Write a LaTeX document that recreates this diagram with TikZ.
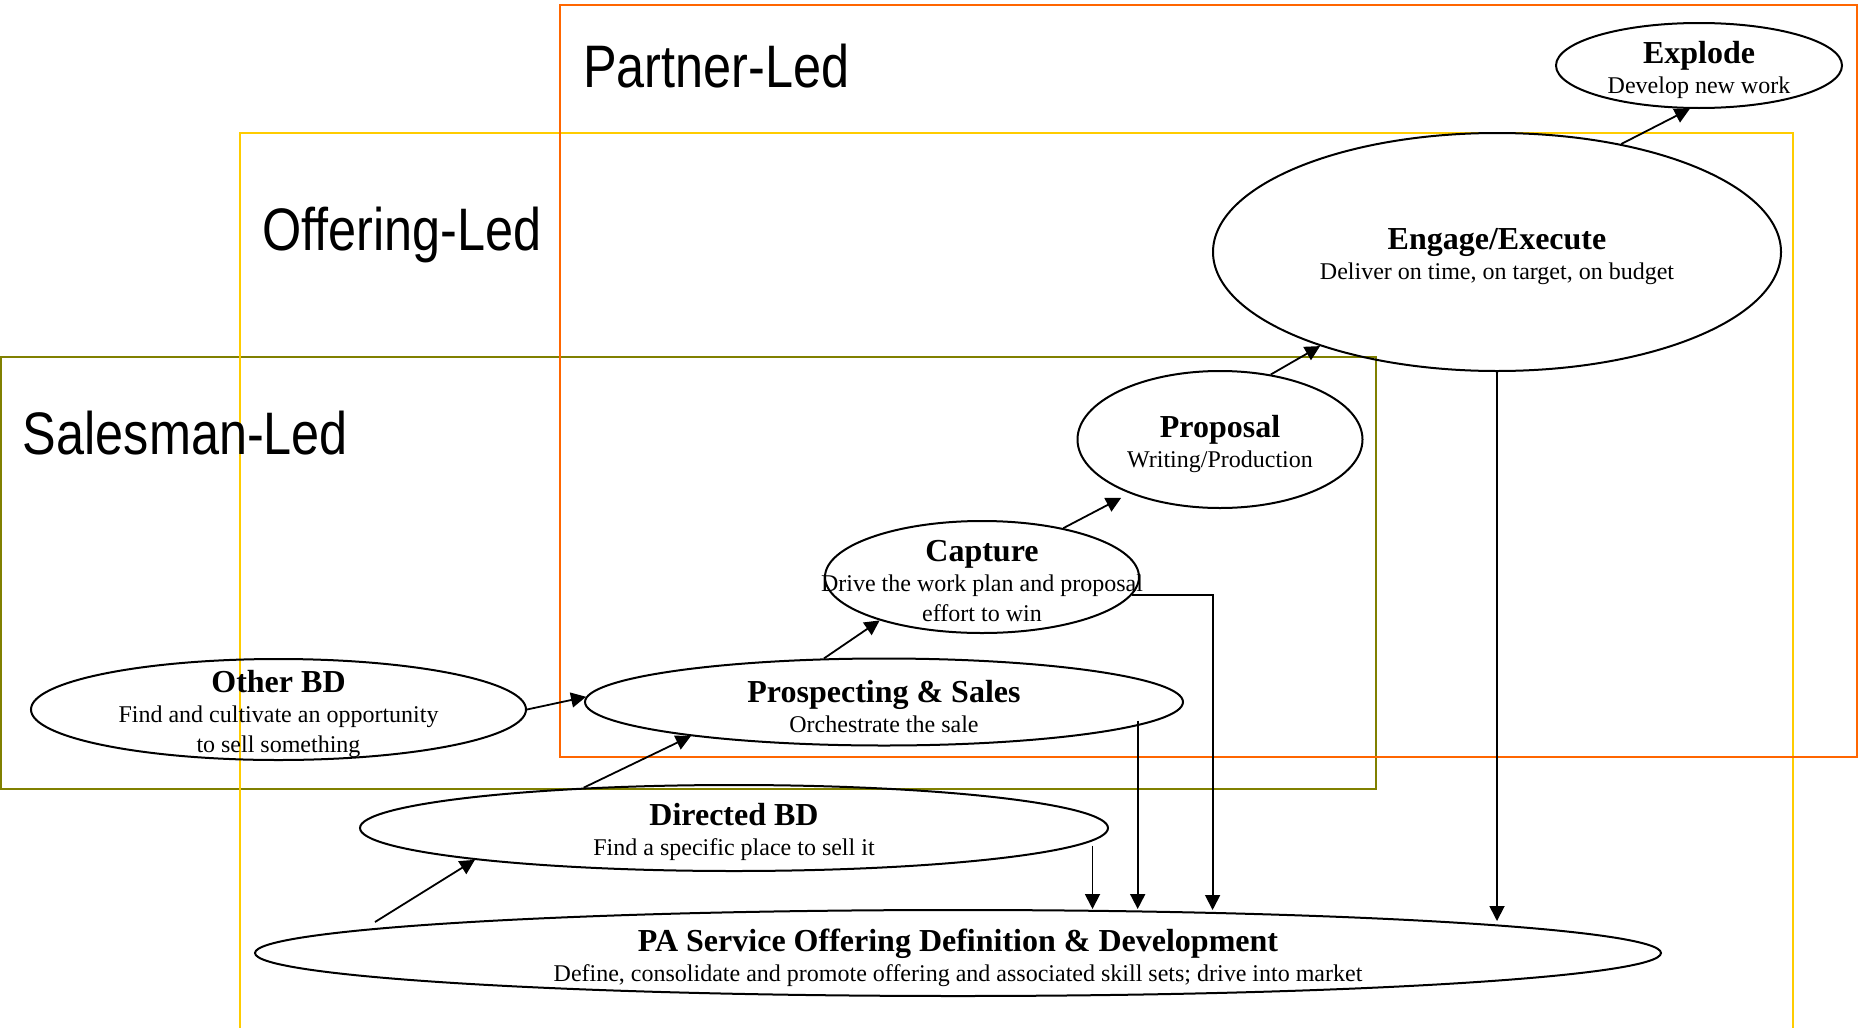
\documentclass[tikz,border=0pt]{standalone}
\usepackage{fontspec}
\setmainfont{Liberation Serif}
\newfontfamily\ledfont[FakeStretch=0.84]{Liberation Sans}
\usepackage{xcolor}
\usetikzlibrary{shapes.geometric,arrows.meta}

\definecolor{partner}{HTML}{FF6600}
\definecolor{offering}{HTML}{FFCC00}
\definecolor{salesman}{HTML}{808000}

\newcommand{\sttl}[1]{{\fontsize{16}{15}\selectfont\bfseries #1}}

\begin{document}
\begin{tikzpicture}[x=0.5pt,y=-0.5pt,
		zone/.style={line width=1pt},
		ledlbl/.style={anchor=base west, inner sep=0pt, font=\ledfont\fontsize{30}{36}\selectfont},
		stage/.style={ellipse, draw, line width=1pt, inner sep=0pt},
		stagelbl/.style={align=center, inner sep=0pt, yshift=-2.2pt, font=\fontsize{12}{15}\selectfont},
		flow/.style={line width=0.9pt, -{Triangle[length=7.5pt,width=7.5pt]}}]
		\useasboundingbox (0,0) rectangle (1863,1028);

		% Bereiche
		\draw[zone, salesman] (1,357) rectangle (1376,789);
		\draw[zone, offering] (239.6,1028) -- (239.6,132.7) -- (1793,132.7) -- (1793,1028);
		\draw[zone, partner] (559.5,5) rectangle (1857,757);

		\node[ledlbl] (partner-lbl) at (582.6,87.3) {Partner-Led};
		\node[ledlbl] (offering-lbl) at (261.6,250.7) {Offering-Led};
		\node[ledlbl] (salesman-lbl) at (22.6,454) {Salesman-Led};

		% Ellipsen
		\node[stage, minimum width=143pt, minimum height=42.5pt,
			label={[stagelbl]center:{\sttl{Explode}\\Develop new work}}] (explode) at (1699,65.5) {};
		\node[stage, minimum width=284pt, minimum height=119pt,
			label={[stagelbl]center:{\sttl{Engage/Execute}\\Deliver on time, on target, on budget}}] (engage) at (1497,252) {};
		\node[stage, minimum width=142.5pt, minimum height=68.5pt,
			label={[stagelbl]center:{\sttl{Proposal}\\Writing/Production}}] (proposal) at (1220,439.5) {};
		\node[stage, minimum width=157pt, minimum height=56pt,
			label={[stagelbl]center:{\sttl{Capture}\\Drive the work plan and proposal\\effort to win}}] (capture) at (982,577) {};
		\node[stage, minimum width=299pt, minimum height=43.5pt,
			label={[stagelbl]center:{\sttl{Prospecting \& Sales}\\Orchestrate the sale}}] (prosp) at (884,702) {};
		\node[stage, minimum width=247.5pt, minimum height=50.5pt,
			label={[stagelbl]center:{\sttl{Other BD}\\Find and cultivate an opportunity\\to sell something}}] (otherbd) at (278.5,709.5) {};
		\node[stage, minimum width=374pt, minimum height=43pt,
			label={[stagelbl]center:{\sttl{Directed BD}\\Find a specific place to sell it}}] (directed) at (734,828) {};
		\node[stage, minimum width=703pt, minimum height=43pt,
			label={[stagelbl]center:{\sttl{PA Service Offering Definition \& Development}\\Define, consolidate and promote offering and associated skill sets; drive into market}}] (pa) at (958,953) {};

		% Abzweige
		\coordinate (directed-drop) at ([shift={(358.5,17.7)}]directed.center);
		\coordinate (prosp-drop) at ([shift={(253.7,18.7)}]prosp.center);
		\coordinate (capture-drop) at ([shift={(254.6,-43)}]pa.center);
		\coordinate (pa-rim) at ([shift={(539,-32)}]pa.center);
		\coordinate (pa-start) at ([shift={(-583,-31)}]pa.center);

		% Pfeile
		\draw[flow] (engage.41) -- (explode.258);
		\draw[flow] (proposal.52) -- (engage.208);
		\draw[flow] (capture.31) -- ([yshift=-4pt]proposal.207);
		\draw[flow] (prosp.144) -- (capture.203);
		\draw[flow] (otherbd.east) -- (prosp.179);
		\draw[flow] (directed.165) -- (prosp.190);
		\draw[flow] (pa-start) -- (directed.187);

		\draw[flow] (directed-drop) -- (directed-drop |- pa.north);
		\draw[flow] (prosp-drop) -- (prosp-drop |- pa.north);
		\draw[flow] (capture.-7.5) -| (capture-drop);
		\draw[flow] (engage.south) -- (engage.south |- pa-rim);
	\end{tikzpicture}
\end{document}
